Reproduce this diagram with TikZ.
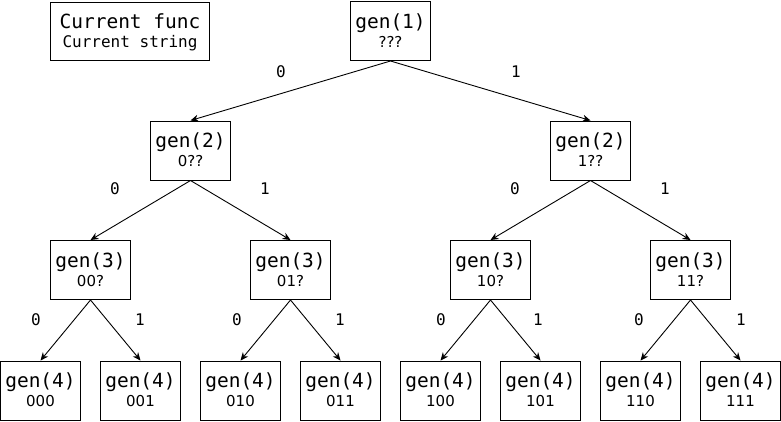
\documentclass[tikz,border=0pt]{standalone}
\usepackage{fontspec}
\setmainfont{DejaVu Sans}
\setmonofont{DejaVu Sans Mono}
\usetikzlibrary{arrows.meta}
\newcommand\gnode[5]{%
  \node[box] (#1) at (#2,#3) {};
  \node[fn] (#1f) at ([yshift=-27pt]#1.north) {#4};
  \node[st] (#1s) at ([yshift=-46pt]#1.north) {#5};
}
\begin{document}
\begin{tikzpicture}[x=1pt,y=-1pt,
  box/.style={draw,line width=1pt,rectangle,minimum width=80pt,minimum height=59pt,inner sep=0pt},
  fn/.style={anchor=base,inner sep=0pt,font=\fontsize{19.5}{20}\ttfamily},
  st/.style={anchor=base,inner sep=0pt,font=\fontsize{15}{16}\selectfont},
  lg/.style={anchor=base,inner sep=0pt,font=\fontsize{16}{17}\ttfamily},
  lbl/.style={inner sep=0pt,font=\fontsize{16}{17}\ttfamily},
  edge/.style={line width=0.9pt,-{Stealth[length=8pt,width=7pt]}}]
\useasboundingbox (0,0) rectangle (781,421);
% legend
\node[draw,line width=1pt,rectangle,minimum width=159pt,minimum height=58pt,inner sep=0pt] (leg) at (130,31) {};
\node[fn] (legf) at ([yshift=-27pt]leg.north) {Current func};
\node[lg] (legs) at ([yshift=-46pt]leg.north) {Current string};
% level 1
\gnode{a}{390.5}{31}{gen(1)}{???}
% level 2
\gnode{b0}{190.5}{150.5}{gen(2)}{0??}
\gnode{b1}{590.5}{150.5}{gen(2)}{1??}
% level 3
\gnode{c00}{90.5}{270}{gen(3)}{00?}
\gnode{c01}{290.5}{270}{gen(3)}{01?}
\gnode{c10}{490.5}{270}{gen(3)}{10?}
\gnode{c11}{690.5}{270}{gen(3)}{11?}
% level 4
\gnode{d000}{40.5}{390.5}{gen(4)}{000}
\gnode{d001}{140.5}{390.5}{gen(4)}{001}
\gnode{d010}{240.5}{390.5}{gen(4)}{010}
\gnode{d011}{340.5}{390.5}{gen(4)}{011}
\gnode{d100}{440.5}{390.5}{gen(4)}{100}
\gnode{d101}{540.5}{390.5}{gen(4)}{101}
\gnode{d110}{640.5}{390.5}{gen(4)}{110}
\gnode{d111}{740.5}{390.5}{gen(4)}{111}
% edges
\draw[edge] (a.south) -- (b0.north);
\draw[edge] (a.south) -- (b1.north);
\draw[edge] (b0.south) -- (c00.north);
\draw[edge] (b0.south) -- (c01.north);
\draw[edge] (b1.south) -- (c10.north);
\draw[edge] (b1.south) -- (c11.north);
\draw[edge] (c00.south) -- (d000.north);
\draw[edge] (c00.south) -- (d001.north);
\draw[edge] (c01.south) -- (d010.north);
\draw[edge] (c01.south) -- (d011.north);
\draw[edge] (c10.south) -- (d100.north);
\draw[edge] (c10.south) -- (d101.north);
\draw[edge] (c11.south) -- (d110.north);
\draw[edge] (c11.south) -- (d111.north);
% edge labels
\node[lbl] (la0) at (281,72) {0};
\node[lbl] (la1) at (516,72) {1};
\node[lbl] (lb00) at (115,189) {0};
\node[lbl] (lb01) at (265,189) {1};
\node[lbl] (lb10) at (515,189) {0};
\node[lbl] (lb11) at (665,189) {1};
\node[lbl] (lc000) at (36,320) {0};
\node[lbl] (lc001) at (140,320) {1};
\node[lbl] (lc010) at (237,320) {0};
\node[lbl] (lc011) at (340,320) {1};
\node[lbl] (lc100) at (441,320) {0};
\node[lbl] (lc101) at (538,320) {1};
\node[lbl] (lc110) at (639,320) {0};
\node[lbl] (lc111) at (741,320) {1};
\end{tikzpicture}
\end{document}
